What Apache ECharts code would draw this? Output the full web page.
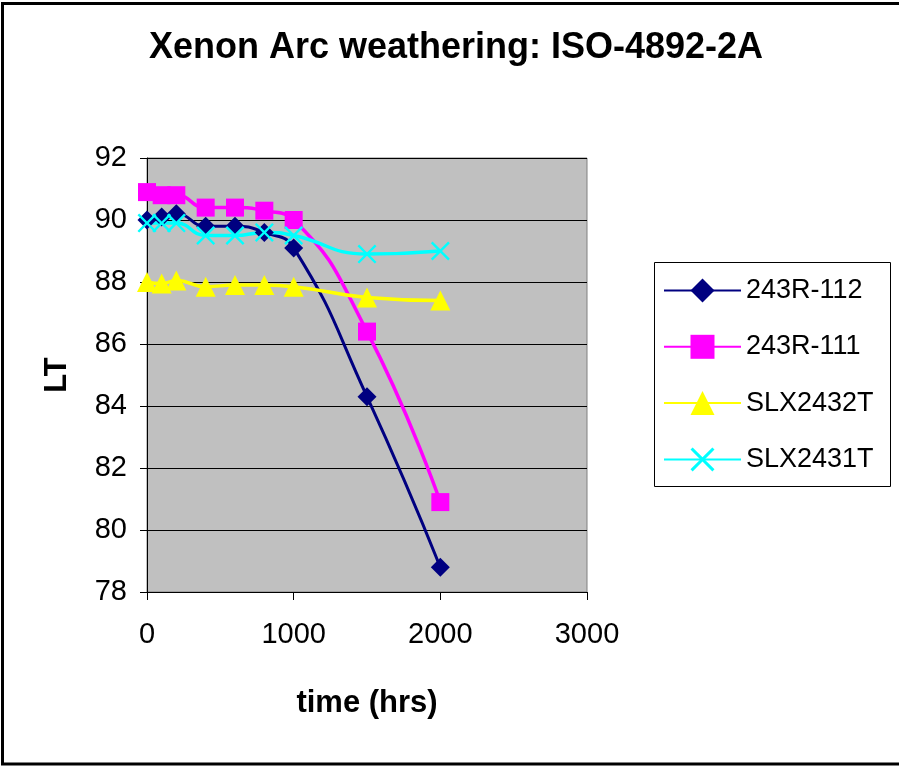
<!DOCTYPE html>
<html>
<head>
<meta charset="utf-8">
<script src="https://cdn.jsdelivr.net/npm/echarts@6/dist/echarts.min.js"></script>
<style>
  html, body { margin: 0; padding: 0; background: #fff; }
  #container { width: 899px; height: 766px; }
</style>
</head>
<body>
<div id="container"></div>
<script>
// time (hrs) at each reading
var hours = [0, 100, 200, 400, 600, 800, 1000, 1500, 2000];
var yTicks = [78, 80, 82, 84, 86, 88, 90, 92];
var xTicks = [0, 1000, 2000, 3000];

var seriesNames = ['243R-112', '243R-111', 'SLX2432T', 'SLX2431T'];
var lt243R112 = [90.0, 90.1, 90.2, 89.8, 89.8, 89.6, 89.1, 84.3, 78.8];
var lt243R111 = [90.9, 90.8, 90.8, 90.4, 90.4, 90.3, 90.0, 86.4, 80.9];
var ltSLX2432T = [88.0, 87.95, 88.05, 87.85, 87.9, 87.9, 87.85, 87.5, 87.4];
var ltSLX2431T = [89.9, 89.9, 89.9, 89.5, 89.5, 89.6, 89.5, 88.9, 89.0];

var font = "'Liberation Sans', Arial, sans-serif";
var crossPath = 'path://M0,1.6L1.6,0L9,7.4L16.4,0L18,1.6L10.6,9L18,16.4L16.4,18L9,10.6L1.6,18L0,16.4L7.4,9Z';

function pairs(vals) {
    return hours.map(function (h, i) { return [h, vals[i]]; });
}

function makeSeries(name, vals, color, symbol, size, width) {
    return {
        name: name,
        type: 'line',
        smooth: true,
        data: pairs(vals),
        symbol: symbol,
        symbolSize: size,
        showAllSymbol: true,
        lineStyle: { color: color, width: width },
        itemStyle: { color: color, borderWidth: 0, opacity: 1 },
        emphasis: { disabled: true }
    };
}

var dom = document.getElementById('container');
var myChart = echarts.init(dom, null, { renderer: 'canvas' });

var option = {
    animation: false,
    backgroundColor: '#ffffff',
    textStyle: { fontFamily: font },
    title: {
        text: 'Xenon Arc weathering: ISO-4892-2A',
        left: 451,
        textAlign: 'center',
        top: 25,
        textStyle: { fontFamily: font, fontSize: 36, fontWeight: 'bold', color: '#000' }
    },
    grid: {
        left: 147, right: 312, top: 158, bottom: 174,
        show: true,
        backgroundColor: '#C0C0C0',
        borderColor: '#808080',
        borderWidth: 1
    },
    legend: {
        orient: 'vertical',
        left: 658,
        top: 272,
        itemWidth: 77,
        itemHeight: 30,
        itemGap: 29.3,
        data: seriesNames,
        textStyle: { fontFamily: font, fontSize: 27, color: '#000' }
    },
    xAxis: {
        type: 'value',
        min: xTicks[0],
        max: xTicks[xTicks.length - 1],
        interval: 1000,
        name: 'time (hrs)',
        nameLocation: 'middle',
        nameGap: 96,
        nameTextStyle: { fontFamily: font, fontSize: 31, fontWeight: 'bold', color: '#000' },
        axisLine: { show: true, lineStyle: { color: '#000', width: 1 } },
        axisTick: { show: true, length: 8, lineStyle: { color: '#000' } },
        axisLabel: {
            fontFamily: font, fontSize: 29, color: '#000', margin: 28,
            formatter: function (v) { return String(v); }
        },
        splitLine: { show: false }
    },
    yAxis: {
        type: 'value',
        min: yTicks[0],
        max: yTicks[yTicks.length - 1],
        interval: 2,
        name: 'LT',
        nameLocation: 'middle',
        nameGap: 74,
        nameRotate: 90,
        nameTextStyle: { fontFamily: font, fontSize: 31, fontWeight: 'bold', color: '#000' },
        axisLine: { show: true, lineStyle: { color: '#000', width: 1 } },
        axisTick: { show: true, length: 7, lineStyle: { color: '#000' } },
        axisLabel: { fontFamily: font, fontSize: 29, color: '#000', margin: 20 },
        splitLine: { show: true, lineStyle: { color: '#000', width: 1 } }
    },
    graphic: [
        {
            type: 'rect',
            shape: { x: 2.5, y: 3.5, width: 905, height: 760.5 },
            style: { fill: null, stroke: '#000', lineWidth: 3 },
            silent: true
        },
        {
            type: 'rect',
            shape: { x: 654.5, y: 262.5, width: 236, height: 224 },
            style: { fill: null, stroke: '#000', lineWidth: 1 },
            silent: true
        }
    ],
    series: [
        makeSeries(seriesNames[0], lt243R112, '#000080', 'diamond', 19, 3),
        makeSeries(seriesNames[1], lt243R111, '#FF00FF', 'rect', 18, 3.5),
        makeSeries(seriesNames[2], ltSLX2432T, '#FFFF00', 'triangle', 20, 3.5),
        makeSeries(seriesNames[3], ltSLX2431T, '#00FFFF', crossPath, 19, 3.5)
    ]
};

myChart.setOption(option);
window.addEventListener('resize', myChart.resize);
</script>
</body>
</html>
